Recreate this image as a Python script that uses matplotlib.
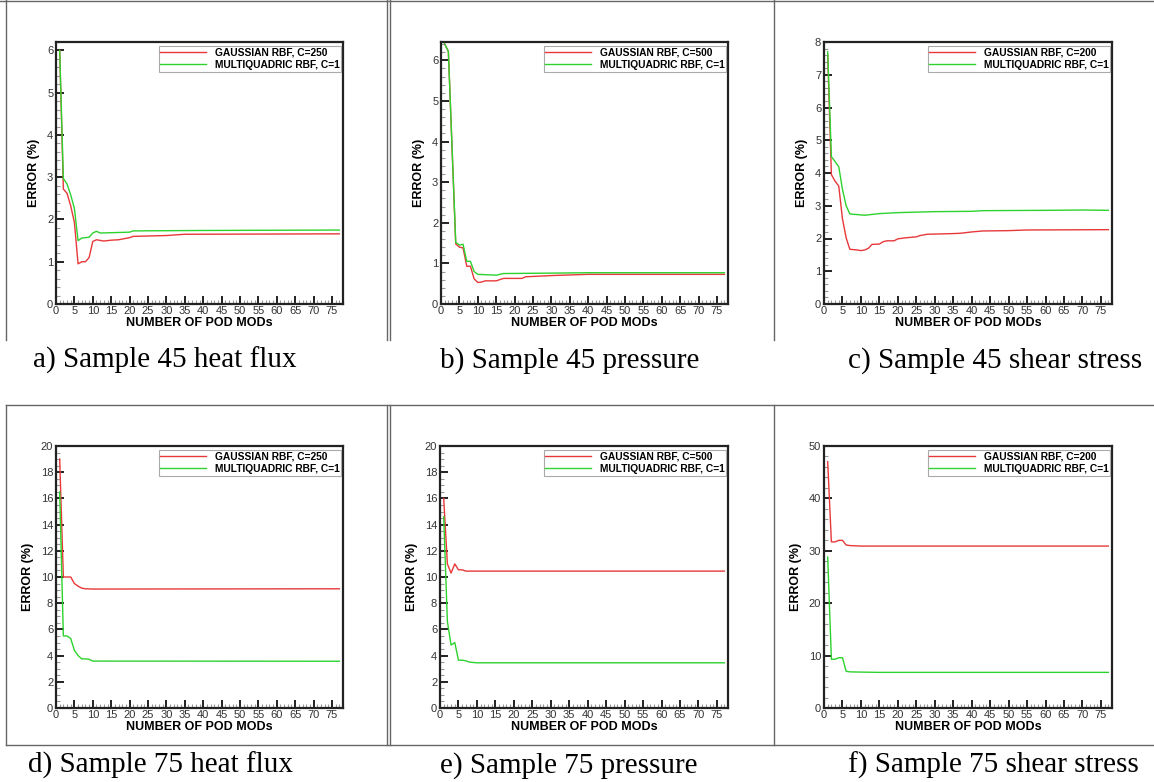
import numpy             as np
import matplotlib.pyplot as plt
from   matplotlib.lines  import Line2D
from   matplotlib.ticker import MultipleLocator

#-------------------- data (mode number, error %) --------------------

# a) Sample 45 heat flux
a_red_x = [1, 2, 3, 4, 5, 6, 7, 8, 9, 10, 11, 13, 15, 17, 20, 21, 30, 35, 77]
a_red_y = [6.0, 2.72, 2.62, 2.32, 1.93, 0.95, 1.0, 1.0, 1.1, 1.48, 1.52, 1.49, 1.51, 1.52, 1.57, 1.6, 1.62, 1.65, 1.66]
a_grn_x = [1, 2, 3, 4, 5, 6, 7, 8, 9, 10, 11, 12, 20, 21, 40, 77]
a_grn_y = [6.0, 2.97, 2.84, 2.58, 2.26, 1.5, 1.56, 1.57, 1.58, 1.68, 1.72, 1.68, 1.70, 1.73, 1.74, 1.75]

# b) Sample 45 pressure
b_red_x = [1, 2, 3, 4, 5, 6, 7, 8, 9, 10, 11, 12, 15, 16, 17, 22, 23, 30, 40, 77]
b_red_y = [6.4, 6.22, 3.85, 1.48, 1.40, 1.38, 0.93, 0.93, 0.62, 0.53, 0.54, 0.57, 0.57, 0.60, 0.63, 0.63, 0.67, 0.70, 0.73, 0.73]
b_grn_x = [1, 2, 3, 4, 5, 6, 7, 8, 9, 10, 15, 16, 17, 30, 40, 77]
b_grn_y = [6.4, 6.22, 3.87, 1.52, 1.45, 1.47, 1.05, 1.05, 0.8, 0.73, 0.71, 0.73, 0.75, 0.76, 0.77, 0.77]

# c) Sample 45 shear stress
c_red_x = [1, 2, 3, 4, 5, 6, 7, 8, 9, 10, 11, 12, 13, 15, 16, 17, 19, 20, 22, 25, 26, 28, 35, 37, 40, 43, 50, 55, 77]
c_red_y = [7.6, 3.95, 3.75, 3.6, 2.6, 2.02, 1.67, 1.66, 1.65, 1.63, 1.65, 1.7, 1.82, 1.83, 1.9, 1.93, 1.93, 1.99,
           2.02, 2.05, 2.09, 2.13, 2.15, 2.16, 2.2, 2.23, 2.24, 2.26, 2.27]
c_grn_x = [1, 2, 3, 4, 5, 6, 7, 10, 11, 15, 20, 30, 40, 43, 60, 70, 77]
c_grn_y = [7.7, 4.5, 4.35, 4.19, 3.5, 3.0, 2.75, 2.72, 2.71, 2.76, 2.79, 2.82, 2.83, 2.85, 2.86, 2.87, 2.86]

# d) Sample 75 heat flux
d_red_x = [1, 2, 3, 4, 5, 6, 7, 8, 10, 77]
d_red_y = [19.0, 10.0, 10.0, 10.0, 9.5, 9.3, 9.15, 9.1, 9.08, 9.1]
d_grn_x = [1, 2, 3, 4, 5, 6, 7, 8, 9, 10, 77]
d_grn_y = [16.5, 5.5, 5.5, 5.3, 4.4, 4.0, 3.75, 3.75, 3.72, 3.58, 3.57]

# e) Sample 75 pressure
e_red_x = [1, 2, 3, 4, 5, 6, 7, 77]
e_red_y = [16.0, 11.0, 10.3, 11.0, 10.55, 10.55, 10.45, 10.45]
e_grn_x = [1, 2, 3, 4, 5, 6, 7, 8, 10, 77]
e_grn_y = [14.6, 6.6, 4.8, 5.0, 3.65, 3.65, 3.6, 3.5, 3.45, 3.45]

# f) Sample 75 shear stress
f_red_x = [1, 2, 3, 4, 5, 6, 7, 10, 77]
f_red_y = [47.0, 31.7, 31.7, 32.0, 32.0, 31.1, 31.0, 30.9, 30.9]
f_grn_x = [1, 2, 3, 4, 5, 6, 7, 10, 15, 77]
f_grn_y = [28.8, 9.3, 9.3, 9.6, 9.6, 7.0, 6.9, 6.85, 6.8, 6.8]

captions = ['a) Sample 45 heat flux', 'b) Sample 45 pressure', 'c) Sample 45 shear stress',
            'd) Sample 75 heat flux', 'e) Sample 75 pressure', 'f) Sample 75 shear stress']
c_values = [250, 500, 200, 250, 500, 200]

#-------------------- layout (pixels of the 1154 x 782 picture) --------------------

W, H = 1154., 782.
RED   = '#e8383a'
GREEN = '#2ed22e'

#  left, right, top, bottom of each axes box, ymax, major, minor, caption x, caption baseline
panels = [
    (a_red_x, a_red_y, a_grn_x, a_grn_y, ( 56, 343,  42, 304), 6.2,  1,  0.2,  33, 368),
    (b_red_x, b_red_y, b_grn_x, b_grn_y, (441, 728,  42, 304), 6.45, 1,  0.2, 440, 368),
    (c_red_x, c_red_y, c_grn_x, c_grn_y, (824, 1112, 42, 304), 8,    1,  0.2, 848, 368),
    (d_red_x, d_red_y, d_grn_x, d_grn_y, ( 56, 343, 446, 708), 20,   2,  0.5,  28, 773),
    (e_red_x, e_red_y, e_grn_x, e_grn_y, (440, 728, 446, 708), 20,   2,  0.5, 440, 773),
    (f_red_x, f_red_y, f_grn_x, f_grn_y, (824, 1112, 446, 708), 50,  10, 2,   848, 773),
]

plt.rcParams['font.family'] = ['Liberation Sans', 'DejaVu Sans']

fig = plt.figure(figsize=(W/100, H/100), dpi=100)

for i, (rx, ry, gx, gy, box, ymax, maj, mnr, tx, ty) in enumerate(panels):
    l, r, t, b = box
    ax = fig.add_axes([l/W, 1 - b/H, (r - l)/W, (b - t)/H])

    ax.plot(rx, ry, color=RED,   lw=1.0, label='GAUSSIAN RBF, C=%d' % c_values[i])
    ax.plot(gx, gy, color=GREEN, lw=1.0, label='MULTIQUADRIC RBF, C=1')

    ax.set_xlim(0, 78)
    ax.set_ylim(0, ymax)
    ax.xaxis.set_major_locator(MultipleLocator(5))
    ax.xaxis.set_minor_locator(MultipleLocator(1))
    ax.yaxis.set_major_locator(MultipleLocator(maj))
    ax.yaxis.set_minor_locator(MultipleLocator(mnr))
    ax.tick_params(which='major', direction='in', length=6, width=1.3, color='#111',
                   labelsize=8, pad=2, labelcolor='#333')
    ax.tick_params(axis='x', which='major', pad=1.5)
    ax.tick_params(which='minor', direction='in', length=3, width=0.8, color='#999')
    for s in ax.spines.values():
        s.set_linewidth(1.6)
        s.set_color('#222')

    ax.set_xlabel('NUMBER OF POD MODs', fontsize=9, fontweight='bold', labelpad=0.5)
    ax.set_ylabel('ERROR (%)', fontsize=9, fontweight='bold', labelpad=5)

    leg = ax.legend(loc='upper right', bbox_to_anchor=(0.993, 0.985),
                    prop={'weight': 'bold', 'size': 7.4}, handlelength=4.5, handletextpad=0.8,
                    labelspacing=0.25, borderpad=0.15, borderaxespad=0.0,
                    fancybox=False, framealpha=1)
    leg.get_frame().set_edgecolor('#aaaaaa')
    leg.get_frame().set_linewidth(0.8)

    fig.text(tx/W, 1 - ty/H, captions[i], family='Liberation Serif', fontsize=21,
             ha='left', va='baseline')

#-------------------- the table lines around the panels --------------------

def pline(x0, y0, x1, y1):
    fig.add_artist(Line2D([x0/W, x1/W], [1 - y0/H, 1 - y1/H], color='#666666', lw=1.0))

pline(0, 0.5, W, 0.5)
for xv in (6, 386.5, 389.5, 774):
    pline(xv, 0, xv, 340)
    pline(xv, 405, xv, 745)
pline(6, 405, W, 405)
pline(6, 745, W, 745)

fig.savefig('out.png', dpi=100)
